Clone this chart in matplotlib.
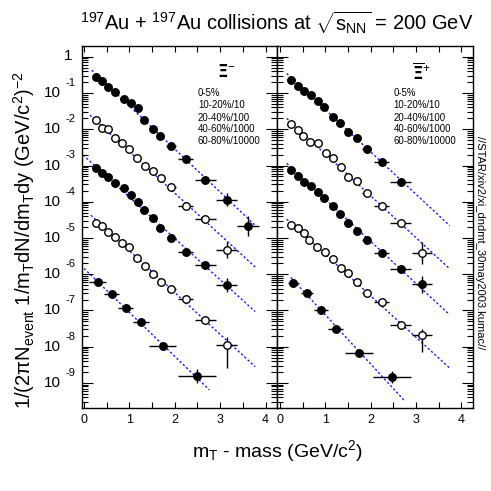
import numpy as np
import matplotlib
matplotlib.use("Agg")
import matplotlib.pyplot as plt
from matplotlib.ticker import LogLocator, NullFormatter, MultipleLocator

plt.rcParams['font.family'] = ['Liberation Sans', 'DejaVu Sans']
plt.rcParams['mathtext.fontset'] = 'custom'
plt.rcParams['mathtext.rm'] = 'Liberation Sans'
plt.rcParams['mathtext.it'] = 'Liberation Sans'

# ---- data (x = mT - mass, y given as log10 of the yield) ----
labels = ["0-5%", "10-20%/10", "20-40%/100", "40-60%/1000", "60-80%/10000"]
filled = [True, False, True, False, True]

# Xi- (left panel)
xim_x1 = [0.26, 0.40, 0.53, 0.68, 0.88, 1.03, 1.18, 1.33, 1.51, 1.68, 1.92, 2.24, 2.67, 3.14, 3.62]
xim_y1 = [-0.55, -0.66, -0.84, -0.96, -1.17, -1.28, -1.42, -1.73, -2.00, -2.19, -2.45, -2.82, -3.40, -3.95, -4.67]
xim_ex1 = [0, 0, 0, 0, 0, 0, 0, 0, 0, 0, 0.11, 0.17, 0.23, 0.23, 0.24]
xim_ey1 = [0, 0, 0, 0, 0, 0, 0, 0, 0, 0, 0, 0, 0, 0.18, 0.28]

xim_x2 = [0.26, 0.40, 0.53, 0.68, 0.83, 1.00, 1.16, 1.34, 1.51, 1.69, 1.92, 2.24, 2.67, 3.14]
xim_y2 = [-1.74, -1.97, -2.00, -2.25, -2.39, -2.55, -2.78, -3.01, -3.15, -3.35, -3.58, -4.11, -4.48, -5.33]
xim_ex2 = [0, 0, 0, 0, 0, 0, 0, 0, 0, 0, 0.10, 0.17, 0.23, 0.23]
xim_ey2 = [0, 0, 0, 0, 0, 0, 0, 0, 0, 0, 0, 0, 0.05, 0.23]

xim_x3 = [0.26, 0.40, 0.53, 0.68, 0.88, 1.03, 1.18, 1.33, 1.51, 1.68, 1.92, 2.24, 2.67, 3.14]
xim_y3 = [-3.08, -3.20, -3.33, -3.49, -3.61, -3.81, -4.00, -4.23, -4.44, -4.72, -4.99, -5.38, -5.74, -6.30]
xim_ex3 = [0, 0, 0, 0, 0, 0, 0, 0, 0, 0, 0.10, 0.17, 0.23, 0.23]
xim_ey3 = [0, 0, 0, 0, 0, 0, 0, 0, 0, 0, 0, 0, 0, 0.20]

xim_x4 = [0.26, 0.40, 0.53, 0.68, 0.83, 1.00, 1.16, 1.34, 1.51, 1.69, 1.92, 2.24, 2.67, 3.14]
xim_y4 = [-4.58, -4.66, -4.83, -4.96, -5.15, -5.24, -5.56, -5.77, -6.00, -6.22, -6.42, -6.69, -7.26, -7.95]
xim_ex4 = [0, 0, 0, 0, 0, 0, 0, 0, 0, 0, 0.10, 0.17, 0.23, 0.23]
xim_ey4 = [0, 0, 0, 0, 0, 0, 0, 0, 0, 0, 0, 0, 0.05, 0.22]
xim_ey4_lo = [0, 0, 0, 0, 0, 0, 0, 0, 0, 0, 0, 0, 0.05, 0.63]

xim_x5 = [0.30, 0.61, 0.92, 1.25, 1.73, 2.48]
xim_y5 = [-6.21, -6.54, -6.94, -7.31, -7.98, -8.81]
xim_ex5 = [0.18, 0.16, 0.17, 0.18, 0.30, 0.42]
xim_ey5 = [0, 0, 0, 0, 0, 0.20]

# fit lines: x start, x end, log10 y start, log10 y end
xim_fits = [(0.17, 3.77, -0.37, -4.65),
            (0.13, 3.77, -1.61, -5.80),
            (-0.02, 3.77, -2.71, -7.03),
            (0.15, 3.77, -4.37, -8.55),
            (0.00, 2.76, -5.84, -9.19)]

# anti-Xi+ (right panel)
axi_x1 = [0.24, 0.39, 0.54, 0.68, 0.83, 0.98, 1.16, 1.33, 1.51, 1.69, 1.91, 2.24, 2.66]
axi_y1 = [-0.64, -0.81, -0.94, -1.06, -1.22, -1.38, -1.65, -1.82, -2.07, -2.25, -2.54, -2.90, -3.45]
axi_ex1 = [0, 0, 0, 0, 0, 0, 0, 0, 0, 0, 0.10, 0.17, 0.23]
axi_ey1 = [0] * 13

axi_x2 = [0.24, 0.39, 0.51, 0.66, 0.83, 1.01, 1.16, 1.34, 1.51, 1.69, 1.91, 2.24, 2.66, 3.13]
axi_y2 = [-1.86, -2.02, -2.19, -2.34, -2.39, -2.65, -2.80, -3.05, -3.33, -3.42, -3.77, -4.11, -4.59, -5.42]
axi_ex2 = [0, 0, 0, 0, 0, 0, 0, 0, 0, 0, 0.10, 0.17, 0.23, 0.23]
axi_ey2 = [0, 0, 0, 0, 0, 0, 0, 0, 0, 0, 0, 0, 0, 0.30]

axi_x3 = [0.24, 0.39, 0.54, 0.68, 0.83, 0.98, 1.16, 1.33, 1.51, 1.69, 1.91, 2.24, 2.66, 3.13]
axi_y3 = [-3.12, -3.28, -3.45, -3.56, -3.72, -3.90, -4.12, -4.33, -4.58, -4.81, -5.06, -5.42, -5.86, -6.28]
axi_ex3 = [0, 0, 0, 0, 0, 0, 0, 0, 0, 0, 0.10, 0.17, 0.23, 0.23]
axi_ey3 = [0, 0, 0, 0, 0, 0, 0, 0, 0, 0, 0, 0, 0, 0.23]

axi_x4 = [0.24, 0.39, 0.54, 0.64, 0.81, 1.00, 1.16, 1.34, 1.51, 1.69, 1.91, 2.24, 2.66, 3.13]
axi_y4 = [-4.64, -4.73, -4.87, -5.05, -5.24, -5.38, -5.58, -5.82, -5.97, -6.22, -6.51, -6.76, -7.40, -7.68]
axi_ex4 = [0, 0, 0, 0, 0, 0, 0, 0, 0, 0, 0.10, 0.17, 0.23, 0.23]
axi_ey4 = [0, 0, 0, 0, 0, 0, 0, 0, 0, 0, 0, 0, 0.05, 0.18]
axi_ey4_lo = [0, 0, 0, 0, 0, 0, 0, 0, 0, 0, 0, 0, 0.05, 0.46]

axi_x5 = [0.29, 0.60, 0.90, 1.23, 1.74, 2.46]
axi_y5 = [-6.23, -6.51, -6.99, -7.52, -8.16, -8.83]
axi_ex5 = [0.12, 0.13, 0.16, 0.17, 0.31, 0.42]
axi_ey5 = [0, 0, 0, 0, 0, 0.16]

axi_fits = [(0.15, 3.74, -0.46, -4.66),
            (0.15, 3.74, -1.70, -5.85),
            (0.15, 3.74, -2.94, -7.12),
            (0.15, 3.74, -4.48, -8.59),
            (0.24, 2.73, -6.09, -9.47)]

xim_series = [(xim_x1, xim_y1, xim_ex1, xim_ey1, xim_ey1),
              (xim_x2, xim_y2, xim_ex2, xim_ey2, xim_ey2),
              (xim_x3, xim_y3, xim_ex3, xim_ey3, xim_ey3),
              (xim_x4, xim_y4, xim_ex4, xim_ey4_lo, xim_ey4),
              (xim_x5, xim_y5, xim_ex5, xim_ey5, xim_ey5)]
axi_series = [(axi_x1, axi_y1, axi_ex1, axi_ey1, axi_ey1),
              (axi_x2, axi_y2, axi_ex2, axi_ey2, axi_ey2),
              (axi_x3, axi_y3, axi_ex3, axi_ey3, axi_ey3),
              (axi_x4, axi_y4, axi_ex4, axi_ey4_lo, axi_ey4),
              (axi_x5, axi_y5, axi_ex5, axi_ey5, axi_ey5)]

fig = plt.figure(figsize=(4.91, 4.91), dpi=100)
bottom, height = 0.1684, 0.738
axL = fig.add_axes([0.167, bottom, 0.397, height])
axR = fig.add_axes([0.564, bottom, 0.399, height])


def draw_panel(ax, series, fits, xlim):
    for (x0, x1, l0, l1) in fits:
        ax.plot([x0, x1], [10.0 ** l0, 10.0 ** l1], color='#1a1aff',
                lw=1.0, ls=(0, (1.6, 1.6)), zorder=1)
    for (x, ly, ex, elo, ehi), fill in zip(series, filled):
        x = np.array(x)
        ly = np.array(ly)
        y = 10.0 ** ly
        lo = y - 10.0 ** (ly - np.array(elo))
        hi = 10.0 ** (ly + np.array(ehi)) - y
        ax.errorbar(x, y, xerr=ex, yerr=[lo, hi], fmt='o', ms=5.4,
                    mfc='black' if fill else 'white', mec='black', mew=1.0,
                    ecolor='black', elinewidth=1.0, capsize=0, zorder=3)
    ax.set_yscale('log')
    ax.set_xlim(*xlim)
    ax.set_ylim(10 ** -9.70, 10 ** 0.30)
    ax.xaxis.set_major_locator(MultipleLocator(1))
    ax.xaxis.set_minor_locator(MultipleLocator(0.5))
    ax.yaxis.set_major_locator(LogLocator(base=10, numticks=20))
    ax.yaxis.set_minor_locator(LogLocator(base=10, subs=np.arange(2, 10), numticks=20))
    ax.yaxis.set_major_formatter(NullFormatter())
    ax.yaxis.set_minor_formatter(NullFormatter())
    ax.tick_params(which='both', direction='in', top=True, right=True,
                   labelsize=9, width=0.8, pad=4)
    ax.tick_params(axis='x', which='major', length=4)
    ax.tick_params(axis='x', which='minor', length=4)
    ax.tick_params(axis='y', which='major', length=8)
    ax.tick_params(axis='y', which='minor', length=4)
    for s in ax.spines.values():
        s.set_linewidth(1.0)


draw_panel(axL, xim_series, xim_fits, (-0.044, 4.25))
draw_panel(axR, axi_series, axi_fits, (-0.066, 4.25))

# ROOT-style y tick labels on the left panel
ytr = axL.get_yaxis_transform()
for e in range(0, -10, -1):
    if e == 0:
        axL.text(-0.05, 10.0 ** 0.02, "1", transform=ytr,
                 ha='right', va='center', fontsize=11)
    else:
        axL.text(-0.108, 10.0 ** e, "10", transform=ytr,
                 ha='right', va='center', fontsize=11)
        axL.text(-0.058, 10.0 ** (e + 0.28), str(e), transform=ytr,
                 ha='center', va='center', fontsize=8)

# panel legends
for ax, sym in [(axL, r'$\mathbf{\Xi}^{-}$'), (axR, r'$\overline{\mathbf{\Xi}}^{+}$')]:
    ax.text(0.74, 0.93, sym, transform=ax.transAxes, ha='center', va='center', fontsize=12)
    ys = [0.869, 0.836, 0.800, 0.771, 0.738]
    for lab, yy in zip(labels, ys):
        ax.text(0.595, yy, lab, transform=ax.transAxes, ha='left', va='center', fontsize=6.9)

fig.text(0.564, 0.955, r'$^{197}$Au + $^{197}$Au collisions at $\sqrt{s_{NN}}$ = 200 GeV',
         ha='center', va='center', fontsize=14.5)
fig.text(0.564, 0.081, r'm$_T$ - mass (GeV/c$^2$)', ha='center', va='center', fontsize=14)
fig.text(0.048, 0.51,
         r'1/(2$\pi$N$_{event}$ 1/m$_T$dN/dm$_T$dy (GeV/c$^2$)$^{-2}$',
         ha='center', va='center', rotation=90, fontsize=14.5)
fig.text(0.978, 0.505, '//STAR/xiv2/xi_dndmt_30may2003.kumac//', ha='center', va='center',
         rotation=-90, fontsize=8)

fig.savefig('out.png', dpi=100)
